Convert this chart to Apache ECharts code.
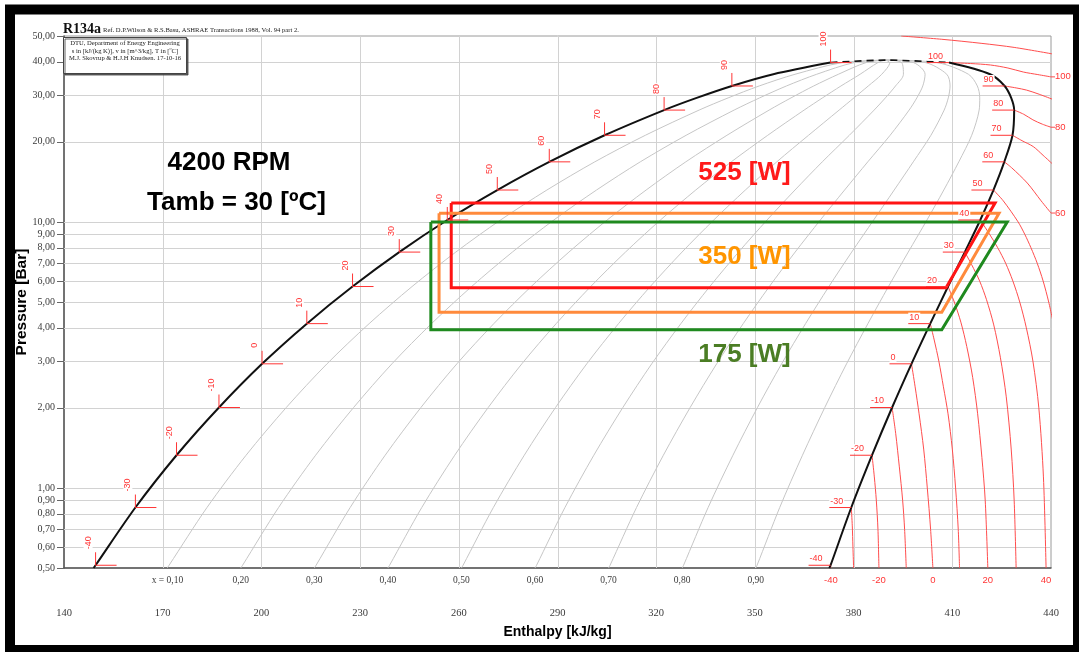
<!DOCTYPE html>
<html>
<head>
<meta charset="utf-8">
<title>R134a log p-h diagram</title>
<script src="https://cdn.jsdelivr.net/npm/echarts@6.0.0/dist/echarts.min.js"></script>
<style>
  html, body { margin: 0; padding: 0; background: #ffffff; }
  #chart { width: 1079px; height: 652px; }
</style>
</head>
<body>
<div id="chart"></div>
<script>
// ---- R134a saturation data (T in °C, p in bar, h in kJ/kg) ----
const satTemp     = [-40.6, -40, -30, -20, -10, 0, 10, 20, 30, 40, 50, 60, 70, 80, 85, 90, 95, 100];
const satPressure = [0.500, 0.512, 0.844, 1.327, 2.006, 2.928, 4.146, 5.717, 7.702, 10.17, 13.18, 16.82, 21.17, 26.33, 29.26, 32.44, 35.90, 39.72];
const satLiquidH  = [149.0, 149.6, 161.7, 174.2, 187.1, 200.2, 213.8, 227.7, 241.9, 256.5, 271.7, 287.5, 304.3, 322.4, 332.3, 343.0, 355.6, 373.0];
const satVapourH  = [372.6, 373.0, 379.3, 385.6, 391.7, 397.6, 403.3, 408.7, 413.8, 418.5, 422.5, 425.8, 428.3, 428.8, 427.9, 425.9, 421.5, 409.0];
const criticalPoint = [389.6, 40.59];

// ---- axis ticks and labelled values ----
const enthalpyTicks = [140, 170, 200, 230, 260, 290, 320, 350, 380, 410, 440];
const pressureTicks = [0.5, 0.6, 0.7, 0.8, 0.9, 1, 2, 3, 4, 5, 6, 7, 8, 9, 10, 20, 30, 40, 50];
const qualityLevels = [0.1, 0.2, 0.3, 0.4, 0.5, 0.6, 0.7, 0.8, 0.9];
const labelledTemps = [-40, -30, -20, -10, 0, 10, 20, 30, 40, 50, 60, 70, 80, 90, 100];
const bottomLabelTemps = [-40, -20, 0, 20, 40];
const edgeLabelTemps = [60, 80, 100];

// ---- superheated vapour isotherms, points [h, p] ----
const isoM40 = [[373.0, 0.512], [373.1, 0.5]];
const isoM30 = [[379.3, 0.844], [379.6, 0.72], [379.8, 0.6], [380.0, 0.5]];
const isoM20 = [[385.6, 1.327], [386.3, 1.1], [386.9, 0.9], [387.4, 0.7], [387.7, 0.5]];
const isoM10 = [[391.7, 2.006], [392.8, 1.6], [393.9, 1.2], [394.9, 0.9], [395.5, 0.7], [396.0, 0.5]];
const iso0   = [[397.6, 2.928], [398.7, 2.4], [399.9, 1.9], [401.3, 1.4], [402.4, 1.0], [403.4, 0.7], [404.1, 0.5]];
const iso10  = [[403.3, 4.146], [404.5, 3.6], [405.9, 3.0], [407.3, 2.4], [408.7, 1.9], [410.0, 1.4], [411.0, 1.0], [411.8, 0.7], [412.2, 0.5]];
const iso20  = [[408.7, 5.717], [410.6, 5.0], [412.6, 4.2], [414.4, 3.4], [416.2, 2.6], [417.7, 1.9], [419.0, 1.3], [420.0, 0.9], [420.8, 0.5]];
const iso30  = [[413.8, 7.702], [415.9, 6.9], [418.3, 6.0], [420.4, 5.1], [422.6, 4.1], [424.6, 3.1], [426.4, 2.2], [427.9, 1.4], [428.8, 0.9], [429.4, 0.5]];
const iso40  = [[418.5, 10.17], [421.3, 9.0], [423.8, 8.0], [426.2, 7.0], [428.4, 6.0], [430.5, 5.0], [432.5, 4.0], [434.5, 3.0], [436.3, 2.0], [437.7, 1.1], [438.5, 0.5]];
const iso50  = [[422.5, 13.18], [425.5, 12.0], [430.0, 10.0], [432.0, 9.0], [433.9, 8.0], [435.8, 7.0], [437.6, 6.0], [439.3, 5.0], [441.0, 4.0]];
const iso60  = [[425.8, 16.82], [428.0, 16.0], [432.8, 14.0], [437.0, 12.0], [440.0, 10.8]];
const iso70  = [[428.3, 21.17], [431.2, 20.2], [434.6, 19.2], [437.6, 17.8], [440.5, 16.5]];
const iso80  = [[428.8, 26.33], [431.7, 25.4], [434.5, 24.2], [437.4, 23.3], [440.0, 22.7]];
const iso90  = [[425.9, 32.44], [429.4, 31.9], [432.6, 31.3], [436.4, 30.2], [440.5, 28.9]];
const iso100 = [[409.0, 39.72], [415.5, 39.4], [421.6, 38.9], [426.9, 37.9], [431.6, 36.6], [436.0, 35.8], [440.0, 35.1]];
const iso110 = [[394.5, 50.0], [406.8, 48.6], [419.0, 46.9], [428.8, 45.3], [440.5, 42.8]];

// ---- measured refrigeration cycles ----
const cycleLoads       = [525, 350, 175];
const cycleHighP       = [11.78, 10.78, 10.0];
const cycleLowP        = [5.66, 4.58, 3.93];
const cycleExpansionH  = [257.7, 254.0, 251.5];
const cycleSuctionH    = [408.1, 406.8, 406.8];
const cycleDischargeH  = [423.0, 424.2, 426.7];

// ---------------------------------------------------------------
const RED = '#ff3535';
const ISO_RED = '#ff4d4d';
const cycleLineColors = ['#ff1414', '#ff8a3c', '#1f8a1f'];
const cycleTextColors = ['#ff1a1a', '#ff9500', '#4b7d24'];
const smallFont = '9px "Liberation Sans", Arial, sans-serif';
const serifFont = '10px "Liberation Serif", "Times New Roman", serif';

const isotherms = [
  [-40, isoM40], [-30, isoM30], [-20, isoM20], [-10, isoM10], [0, iso0], [10, iso10],
  [20, iso20], [30, iso30], [40, iso40], [50, iso50], [60, iso60], [70, iso70],
  [80, iso80], [90, iso90], [100, iso100], [110, iso110]
];

const comma = (v, d) => v.toFixed(d).replace('.', ',');
const lastIdx = satTemp.length - 1;

const series = [];

// vertical grid lines (enthalpy)
series.push({
  type: 'custom', name: 'enthalpyGrid', z: 1, silent: true, clip: false,
  data: enthalpyTicks.filter(h => h > 140 && h < 440).map(h => [h, 0.5]),
  encode: { x: 0, y: 1 },
  renderItem: (params, api) => {
    const a = api.coord([api.value(0), 0.5]);
    const b = api.coord([api.value(0), 50]);
    const x = Math.round(a[0]) + 0.5;
    return { type: 'line', shape: { x1: x, y1: a[1], x2: x, y2: b[1] },
             style: { stroke: '#d2d2d2', lineWidth: 1 } };
  }
});

// horizontal grid lines, ticks and labels (pressure, log scale)
series.push({
  type: 'custom', name: 'pressureGrid', z: 1, silent: true, clip: false,
  data: pressureTicks.map(p => [140, p]),
  encode: { x: 0, y: 1 },
  renderItem: (params, api) => {
    const p = api.value(1);
    const a = api.coord([140, p]);
    const b = api.coord([440, p]);
    const y = Math.round(a[1]) + 0.5;
    const children = [];
    if (p > 0.5 && p < 50) {
      children.push({ type: 'line', shape: { x1: a[0], y1: y, x2: b[0], y2: y },
                      style: { stroke: '#d2d2d2', lineWidth: 1 } });
    }
    children.push({ type: 'line', shape: { x1: a[0] - 7, y1: y, x2: a[0], y2: y },
                    style: { stroke: '#666', lineWidth: 1 } });
    children.push({ type: 'text', style: { text: comma(p, 2), x: a[0] - 9, y: a[1],
                    align: 'right', verticalAlign: 'middle', font: serifFont, fill: '#3a3a3a' } });
    return { type: 'group', children };
  }
});

// lines of constant vapour quality: h = hf + x (hg - hf)
qualityLevels.forEach(q => {
  const pts = satPressure.map((p, i) => [satLiquidH[i] + q * (satVapourH[i] - satLiquidH[i]), p]);
  pts.push(criticalPoint);
  series.push({
    type: 'line', name: 'x' + q, z: 2, silent: true, symbol: 'none', smooth: 0.3,
    data: pts, lineStyle: { color: '#c6c6c6', width: 1 }
  });
});

// superheated isotherms
isotherms.forEach(([t, pts]) => {
  series.push({
    type: 'line', name: 'T' + t, z: 3, silent: true, symbol: 'none', smooth: 0.3,
    data: pts, lineStyle: { color: ISO_RED, width: 1 }
  });
});

// saturation dome
series.push({
  type: 'line', name: 'satLiquid', z: 4, silent: true, symbol: 'none', smooth: 0.3,
  data: satPressure.map((p, i) => [satLiquidH[i], p]),
  lineStyle: { color: '#111', width: 2 }
});
series.push({
  type: 'line', name: 'nearCritical', z: 4, silent: true, symbol: 'none', smooth: 0.3,
  data: [[satLiquidH[lastIdx], satPressure[lastIdx]], criticalPoint, [satVapourH[lastIdx], satPressure[lastIdx]]],
  lineStyle: { color: '#111', width: 1.6, type: [7, 5] }
});
series.push({
  type: 'line', name: 'satVapour', z: 4, silent: true, symbol: 'none', smooth: 0.3,
  data: satPressure.map((p, i) => [satVapourH[i], p]).reverse(),
  lineStyle: { color: '#111', width: 2 }
});

// refrigeration cycles
cycleLoads.forEach((load, i) => {
  series.push({
    type: 'line', name: load + ' W', z: 5, silent: true, symbol: 'none',
    data: [
      [cycleExpansionH[i], cycleHighP[i]],
      [cycleExpansionH[i], cycleLowP[i]],
      [cycleSuctionH[i], cycleLowP[i]],
      [cycleDischargeH[i], cycleHighP[i]],
      [cycleExpansionH[i], cycleHighP[i]]
    ],
    lineStyle: { color: cycleLineColors[i], width: 3, join: 'miter' }
  });
});

// temperature marks on both saturation lines
series.push({
  type: 'custom', name: 'satMarks', z: 6, silent: true, clip: false,
  data: labelledTemps.map(t => {
    const i = satTemp.indexOf(t);
    return [satLiquidH[i], satPressure[i], satVapourH[i], t];
  }),
  encode: { x: [0, 2], y: 1 },
  renderItem: (params, api) => {
    const p = api.value(1);
    const t = String(api.value(3));
    const L = api.coord([api.value(0), p]);
    const V = api.coord([api.value(2), p]);
    return {
      type: 'group',
      children: [
        { type: 'polyline', shape: { points: [[L[0], L[1] - 13], [L[0], L[1]], [L[0] + 21, L[1]]] },
          style: { stroke: RED, lineWidth: 1, fill: null } },
        { type: 'text', x: L[0] - 3, y: L[1] - 15, rotation: Math.PI / 2,
          style: { text: t, x: 0, y: 0, align: 'left', verticalAlign: 'bottom', font: smallFont,
                   fill: RED, backgroundColor: '#fff', padding: [0, 1] } },
        { type: 'line', shape: { x1: V[0] - 22, y1: V[1], x2: V[0], y2: V[1] },
          style: { stroke: RED, lineWidth: 1 } },
        { type: 'text', style: { text: t, x: V[0] - 22, y: V[1] - 2, align: 'left', verticalAlign: 'bottom',
                                 font: smallFont, fill: RED, backgroundColor: '#fff', padding: [0, 1] } }
      ]
    };
  }
});

// isotherm labels at the bottom and right edges
const endLabels = [];
bottomLabelTemps.forEach(t => {
  const pts = isotherms.find(d => d[0] === t)[1];
  const e = pts[pts.length - 1];
  endLabels.push([e[0], e[1], t, 0]);
});
edgeLabelTemps.forEach(t => {
  const pts = isotherms.find(d => d[0] === t)[1];
  const e = pts[pts.length - 1];
  endLabels.push([e[0], e[1], t, 1]);
});
series.push({
  type: 'custom', name: 'isothermLabels', z: 6, silent: true, clip: false,
  data: endLabels,
  encode: { x: 0, y: 1 },
  renderItem: (params, api) => {
    const pt = api.coord([api.value(0), api.value(1)]);
    const t = String(api.value(2));
    if (api.value(3) === 0) {
      return { type: 'text', style: { text: t, x: pt[0], y: pt[1] + 12, align: 'center',
               verticalAlign: 'middle', font: '9.5px "Liberation Sans", Arial, sans-serif', fill: RED } };
    }
    return {
      type: 'group',
      children: [
        { type: 'line', shape: { x1: pt[0], y1: pt[1], x2: pt[0] + 4, y2: pt[1] }, style: { stroke: ISO_RED, lineWidth: 1 } },
        { type: 'text', style: { text: t, x: pt[0] + 4, y: pt[1], align: 'left', verticalAlign: 'middle',
                                 font: '9.5px "Liberation Sans", Arial, sans-serif', fill: RED } }
      ]
    };
  }
});

// vapour quality labels along the bottom edge
series.push({
  type: 'custom', name: 'qualityLabels', z: 6, silent: true, clip: false,
  data: qualityLevels.map(q => [satLiquidH[0] + q * (satVapourH[0] - satLiquidH[0]), satPressure[0], q]),
  encode: { x: 0, y: 1 },
  renderItem: (params, api) => {
    const pt = api.coord([api.value(0), api.value(1)]);
    const q = api.value(2);
    const first = params.dataIndex === 0;
    return { type: 'text', style: {
      text: first ? 'x = ' + comma(q, 2) : comma(q, 2),
      x: first ? pt[0] + 16 : pt[0], y: pt[1] + 12,
      align: first ? 'right' : 'center', verticalAlign: 'middle',
      font: '9.5px "Liberation Serif", "Times New Roman", serif', fill: '#3a3a3a' } };
  }
});

const chart = echarts.init(document.getElementById('chart'), null, { renderer: 'canvas' });
chart.setOption({
  animation: false,
  backgroundColor: '#ffffff',
  grid: { left: 64, top: 36, width: 987, height: 532, show: true, borderColor: '#9a9a9a', borderWidth: 1, backgroundColor: '#ffffff' },
  xAxis: {
    type: 'value', min: 140, max: 440,
    axisLine: { show: true, onZero: false, lineStyle: { color: '#555', width: 1.5 } },
    axisTick: { show: false },
    splitLine: { show: false },
    axisLabel: { customValues: enthalpyTicks, margin: 40, color: '#3a3a3a',
                 fontFamily: '"Liberation Serif", "Times New Roman", serif', fontSize: 10.5 },
    name: 'Enthalpy [kJ/kg]', nameLocation: 'middle', nameGap: 57,
    nameTextStyle: { fontFamily: '"Liberation Sans", Arial, sans-serif', fontWeight: 'bold', fontSize: 14, color: '#000' }
  },
  yAxis: {
    type: 'log', logBase: 10, min: 0.5, max: 50,
    axisLine: { show: true, onZero: false, lineStyle: { color: '#555', width: 1.5 } },
    axisTick: { show: false },
    axisLabel: { show: false },
    splitLine: { show: false },
    minorSplitLine: { show: false },
    name: 'Pressure [Bar]', nameLocation: 'middle', nameGap: 34, nameRotate: 90,
    nameTextStyle: { fontFamily: '"Liberation Sans", Arial, sans-serif', fontWeight: 'bold', fontSize: 15.5, color: '#000' }
  },
  series: series,
  graphic: [
    { type: 'rect', z: 100, silent: true, shape: { x: 10, y: 9.5, width: 1068, height: 640.5 },
      style: { fill: null, stroke: '#000', lineWidth: 10 } },
    { type: 'text', z: 100, silent: true, x: 63, y: 29,
      style: { text: 'R134a', font: 'bold 14px "Liberation Serif", "Times New Roman", serif', fill: '#111', align: 'left', verticalAlign: 'middle' } },
    { type: 'text', z: 100, silent: true, x: 103, y: 30,
      style: { text: 'Ref. D.P.Wilson & R.S.Basu, ASHRAE Transactions 1988, Vol. 94 part 2.', font: '6.6px "Liberation Serif", "Times New Roman", serif', fill: '#222', align: 'left', verticalAlign: 'middle' } },
    { type: 'rect', z: 100, silent: true, shape: { x: 63.5, y: 37.5, width: 123, height: 36 },
      style: { fill: '#fff', stroke: '#444', lineWidth: 1, shadowColor: 'rgba(60,60,60,0.8)', shadowOffsetX: 1.5, shadowOffsetY: 1.5, shadowBlur: 0 } },
    { type: 'text', z: 101, silent: true, x: 125, y: 43.5,
      style: { text: 'DTU, Department of Energy Engineering', font: '6.6px "Liberation Serif", "Times New Roman", serif', fill: '#222', align: 'center', verticalAlign: 'middle' } },
    { type: 'text', z: 101, silent: true, x: 125, y: 50.8,
      style: { text: 's in [kJ/(kg K)], v in [m^3/kg], T in [ºC]', font: '6.6px "Liberation Serif", "Times New Roman", serif', fill: '#222', align: 'center', verticalAlign: 'middle' } },
    { type: 'text', z: 101, silent: true, x: 125, y: 58,
      style: { text: 'M.J. Skovrup & H.J.H Knudsen. 17-10-16', font: '6.6px "Liberation Serif", "Times New Roman", serif', fill: '#222', align: 'center', verticalAlign: 'middle' } },
    { type: 'text', z: 100, silent: true, x: 229, y: 163,
      style: { text: '4200 RPM', font: 'bold 26px "Liberation Sans", Arial, sans-serif', fill: '#000', align: 'center', verticalAlign: 'middle' } },
    { type: 'text', z: 100, silent: true, x: 236.5, y: 203,
      style: { text: 'Tamb = 30 [ºC]', font: 'bold 26px "Liberation Sans", Arial, sans-serif', fill: '#000', align: 'center', verticalAlign: 'middle' } },
    { type: 'text', z: 100, silent: true, x: 744.5, y: 172.5,
      style: { text: cycleLoads[0] + ' [W]', font: 'bold 26px "Liberation Sans", Arial, sans-serif', fill: cycleTextColors[0], align: 'center', verticalAlign: 'middle' } },
    { type: 'text', z: 100, silent: true, x: 744.5, y: 257,
      style: { text: cycleLoads[1] + ' [W]', font: 'bold 26px "Liberation Sans", Arial, sans-serif', fill: cycleTextColors[1], align: 'center', verticalAlign: 'middle' } },
    { type: 'text', z: 100, silent: true, x: 744.5, y: 355,
      style: { text: cycleLoads[2] + ' [W]', font: 'bold 26px "Liberation Sans", Arial, sans-serif', fill: cycleTextColors[2], align: 'center', verticalAlign: 'middle' } }
  ]
});
</script>
</body>
</html>
